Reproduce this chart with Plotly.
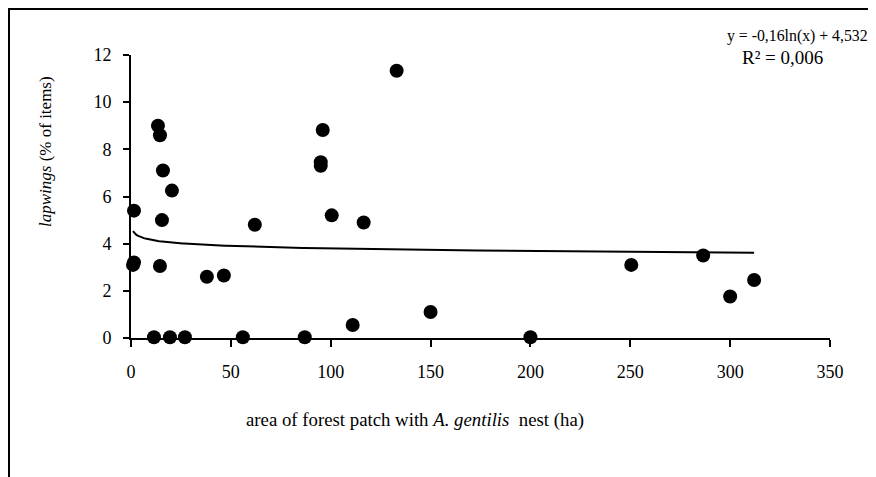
import numpy as np
import plotly.graph_objects as go

# data
area_ha = [1, 1.5, 1.5, 13.5, 14.5, 16, 20.5, 15.5, 14.5, 38, 46.5, 62,
           11.5, 19.5, 27, 56, 133, 96, 95, 95, 100.5, 116.5, 87, 111,
           150, 200, 250.5, 286.5, 300, 312]
lapwings_pct = [3.1, 3.2, 5.4, 9.0, 8.6, 7.1, 6.25, 5.0, 3.05, 2.6, 2.65, 4.8,
                0.03, 0.03, 0.03, 0.03, 11.33, 8.82, 7.45, 7.3, 5.2, 4.9, 0.03, 0.55,
                1.1, 0.03, 3.1, 3.5, 1.76, 2.46]
trend_a = -0.16
trend_b = 4.532
x_ticks = [0, 50, 100, 150, 200, 250, 300, 350]
y_ticks = [0, 2, 4, 6, 8, 10, 12]

tx = np.linspace(min(area_ha), max(area_ha), 400)
ty = trend_a * np.log(tx) + trend_b

FONT = "Liberation Serif"
W, H = 868, 469
L, R, T, B = 123, 46, 47, 139
PW, PH = W - L - R, H - T - B


def px(xp):
    return (xp - L) / PW


def py(yp):
    return (H - B - yp) / PH


fig = go.Figure()
fig.add_trace(go.Scatter(x=tx, y=ty, mode="lines",
                         line=dict(color="black", width=2), hoverinfo="skip"))
fig.add_trace(go.Scatter(x=area_ha, y=lapwings_pct, mode="markers",
                         marker=dict(color="black", size=14), cliponaxis=False))

fig.update_layout(
    width=W, height=H,
    margin=dict(l=L, r=R, t=T, b=B),
    paper_bgcolor="white", plot_bgcolor="white",
    showlegend=False,
    font=dict(family=FONT, color="black", size=18),
    xaxis=dict(range=[0, 350], tickvals=x_ticks, ticktext=[str(v) for v in x_ticks],
               showgrid=False, zeroline=False,
               showline=True, linecolor="black", linewidth=2,
               ticks="outside", ticklen=7, tickwidth=2, tickcolor="black",
               ticklabelstandoff=9,
               tickfont=dict(family=FONT, size=18, color="black")),
    yaxis=dict(range=[0, 12], tickvals=y_ticks, ticktext=[str(v) for v in y_ticks],
               showgrid=False, zeroline=False,
               showline=True, linecolor="black", linewidth=2,
               ticks="outside", ticklen=6, tickwidth=2, tickcolor="black",
               ticklabelstandoff=8,
               tickfont=dict(family=FONT, size=18, color="black")),
)

# axis titles (placed off-centre as in the reference)
fig.add_annotation(xref="paper", yref="paper", x=px(407), y=py(412),
                   text="area of forest patch with <i>A. gentilis</i>\u2002nest (ha)",
                   showarrow=False, font=dict(family=FONT, size=18.8, color="black"),
                   xanchor="center", yanchor="middle")
fig.add_annotation(xref="paper", yref="paper", x=px(37), y=py(144),
                   text="<i>lapwings</i> (% of items)", textangle=-90,
                   showarrow=False, font=dict(family=FONT, size=17, color="black"),
                   xanchor="center", yanchor="middle")

fig.add_annotation(xref="paper", yref="paper", x=px(789), y=py(28),
                   text="y = -0,16ln(x) + 4,532", showarrow=False,
                   font=dict(family=FONT, size=15.8, color="black"),
                   xanchor="center", yanchor="middle")
fig.add_annotation(xref="paper", yref="paper", x=px(774), y=py(49),
                   text="R² = 0,006", showarrow=False,
                   font=dict(family=FONT, size=19, color="black"),
                   xanchor="center", yanchor="middle")

# outer frame (only top and left edges visible in the cropped reference)
fig.add_shape(type="line", xref="paper", yref="paper",
              x0=px(0), x1=px(W + 5), y0=py(1), y1=py(1),
              line=dict(color="black", width=2))
fig.add_shape(type="line", xref="paper", yref="paper",
              x0=px(1), x1=px(1), y0=py(1), y1=py(H + 5),
              line=dict(color="black", width=2))

fig.write_html("out.html")
